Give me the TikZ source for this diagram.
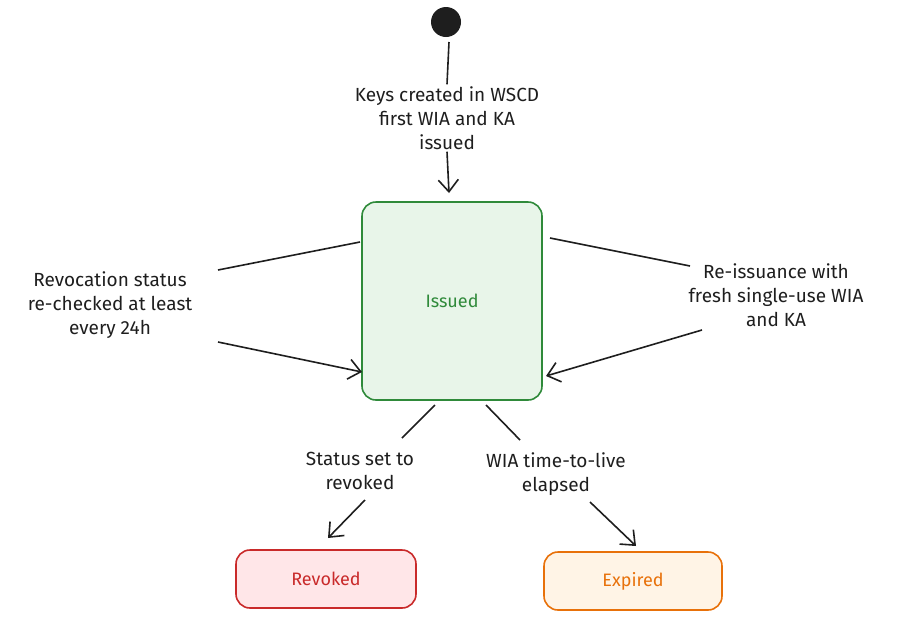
\documentclass[tikz,border=0pt]{standalone}
\usepackage{fontspec}
\setmainfont{Fira Sans}
\usetikzlibrary{arrows.meta,positioning}
\definecolor{isgreen}{RGB}{47,138,58}
\definecolor{isgreenbg}{RGB}{232,245,233}
\definecolor{rvred}{RGB}{201,42,42}
\definecolor{rvredbg}{RGB}{255,230,232}
\definecolor{exorange}{RGB}{232,113,10}
\definecolor{exorangebg}{RGB}{255,244,230}
\definecolor{ink}{RGB}{30,30,30}
\tikzset{
  line/.style = {line width=1.6pt, draw=ink},
  arrow/.style = {line, -{Straight Barb[length=12pt,width=20pt]}},
  state/.style = {rectangle, rounded corners=14pt, line width=1.6pt, font=\fontsize{18}{22}\selectfont},
  lbl/.style = {align=center, text=ink, font=\fontsize{19}{24}\selectfont, inner sep=2pt}
}
\begin{document}
\begin{tikzpicture}[x=1pt,y=-1pt]
\useasboundingbox (0,0) rectangle (897,622);
% states
\node (start) [circle, fill=ink, minimum size=30pt, inner sep=0pt] at (446,22) {};
\node (issued) [state, draw=isgreen, fill=isgreenbg, text=isgreen, minimum width=180pt, minimum height=198pt] at (452,301) {Issued};
\node (revoked) [state, draw=rvred, fill=rvredbg, text=rvred, minimum width=180pt, minimum height=58pt] at (326,579) {Revoked};
\node (expired) [state, draw=exorange, fill=exorangebg, text=exorange, minimum width=178pt, minimum height=58pt] at (633,581) {Expired};

% labels
\node (lcreate) [lbl] at (447,118) {Keys created in WSCD\\first WIA and KA\\issued};
\node (lcheck) [lbl] at (110,305) {Revocation status\\re-checked at least\\every 24h};
\node (lreissue) [lbl] at (776,295) {Re-issuance with\\fresh single-use WIA\\and KA};
\node (lstatus) [lbl] at (360,471) {Status set to\\revoked};
\node (lttl) [lbl] at (556,474) {WIA time-to-live\\elapsed};

% connector ends
\coordinate (s0) at (449,42);
\coordinate (i0) at (449,193);
\coordinate (il1) at (360,242);
\coordinate (il2) at (362,372);
\coordinate (ir1) at (550,238);
\coordinate (ir2) at (546,376);
\coordinate (ib1) at (435,405);
\coordinate (ib2) at (486,405);
\coordinate (c1) at (218,270);
\coordinate (c2) at (218,342);
\coordinate (r1) at (690,266);
\coordinate (r2) at (702,330);
\coordinate (d1) at (402,438);
\coordinate (d2) at (365,500);
\coordinate (e1) at (520,440);
\coordinate (e2) at (590,502);
\coordinate (rv) at (328,538);
\coordinate (ex) at (636,546);

% transitions
\draw[line] (s0) -- (lcreate.north);
\draw[arrow] (lcreate.south) -- (i0);
\draw[line] (il1) -- (c1);
\draw[arrow] (c2) -- (il2);
\draw[line] (ir1) -- (r1);
\draw[arrow] (r2) -- (ir2);
\draw[line] (ib1) -- (d1);
\draw[arrow] (d2) -- (rv);
\draw[line] (ib2) -- (e1);
\draw[arrow] (e2) -- (ex);
\end{tikzpicture}
\end{document}
